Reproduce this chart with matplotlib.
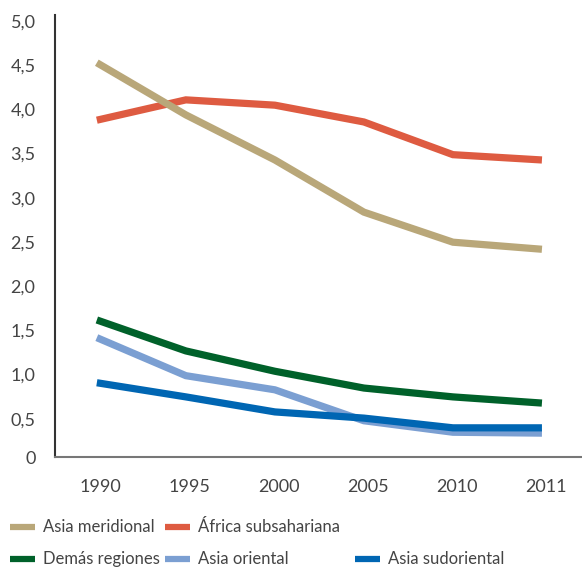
import matplotlib
matplotlib.use("Agg")
import matplotlib.pyplot as plt
import matplotlib.transforms as mtransforms
from matplotlib.lines import Line2D

# data
years = ["1990", "1995", "2000", "2005", "2010", "2011"]
asia_meridional = [4.46, 3.87, 3.36, 2.77, 2.43, 2.35]
africa_subsahariana = [3.81, 4.04, 3.98, 3.79, 3.42, 3.36]
demas_regiones = [1.55, 1.20, 0.97, 0.78, 0.68, 0.61]
asia_oriental = [1.35, 0.92, 0.76, 0.41, 0.28, 0.27]
asia_sudoriental = [0.84, 0.68, 0.51, 0.44, 0.33, 0.33]

yticks = [0, 0.5, 1.0, 1.5, 2.0, 2.5, 3.0, 3.5, 4.0, 4.5, 5.0]
ytick_labels = ["0", "0,5", "1,0", "1,5", "2,0", "2,5", "3,0", "3,5", "4,0", "4,5", "5,0"]

c_tan = "#B9A779"
c_red = "#DE5B41"
c_green = "#00612A"
c_lblue = "#7B9FD2"
c_blue = "#0066B3"
txt = "#444444"

plt.rcParams["font.family"] = ["Lato", "DejaVu Sans"]

fig = plt.figure(figsize=(5.82, 5.69), dpi=100)
ax = fig.add_axes([55 / 582, 1 - 457 / 569, 1 - 55 / 582, (457 - 15) / 569])

x = list(range(len(years)))
lw = 5.2
# drawing order as in the reference (tan over red, dark blue on top)
ax.plot(x, africa_subsahariana, color=c_red, lw=lw, solid_capstyle="butt", solid_joinstyle="miter")
ax.plot(x, asia_meridional, color=c_tan, lw=lw, solid_capstyle="butt", solid_joinstyle="miter")
ax.plot(x, demas_regiones, color=c_green, lw=lw, solid_capstyle="butt", solid_joinstyle="miter")
ax.plot(x, asia_oriental, color=c_lblue, lw=lw, solid_capstyle="butt", solid_joinstyle="miter")
ax.plot(x, asia_sudoriental, color=c_blue, lw=lw, solid_capstyle="butt", solid_joinstyle="miter")

ax.set_xlim(-0.47, 5.45)
ax.set_ylim(0, 5.0)
ax.set_xticks(x)
ax.set_xticklabels(years)
ax.set_yticks(yticks)
ax.set_yticklabels(ytick_labels)
ax.tick_params(axis="both", length=0, labelsize=13, colors=txt)
ax.tick_params(axis="x", pad=16)
ax.tick_params(axis="y", pad=14)

# labels in the reference sit a few pixels below their gridline value
offset = mtransforms.ScaledTranslation(0, -6 / 100, fig.dpi_scale_trans)
for lab in ax.get_yticklabels()[1:]:
    lab.set_transform(lab.get_transform() + offset)
# year labels sit slightly right of the points
xoff = mtransforms.ScaledTranslation(4 / 100, 0, fig.dpi_scale_trans)
for lab in ax.get_xticklabels():
    lab.set_transform(lab.get_transform() + xoff)

for s in ["top", "right"]:
    ax.spines[s].set_visible(False)
ax.spines["left"].set_color("#333333")
ax.spines["left"].set_linewidth(1.5)
ax.spines["bottom"].set_color("#777777")
ax.spines["bottom"].set_linewidth(1.5)

# legend, laid out by hand like the reference
legend_items = [
    ("Asia meridional", c_tan, 10, 527),
    ("África subsahariana", c_red, 165, 527),
    ("Demás regiones", c_green, 10, 559),
    ("Asia oriental", c_lblue, 165, 559),
    ("Asia sudoriental", c_blue, 355, 559),
]
W, H = 582, 569
for label, col, px, py in legend_items:
    fig.add_artist(Line2D([px / W, (px + 25) / W], [1 - py / H, 1 - py / H],
                          color=col, lw=4.5, solid_capstyle="butt"))
    fig.text((px + 33) / W, 1 - py / H, label, fontsize=12, color=txt, va="center", ha="left")

fig.savefig("out.png", dpi=100)
